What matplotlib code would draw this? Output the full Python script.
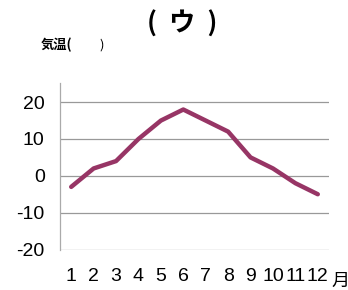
import matplotlib
matplotlib.use("Agg")
import matplotlib.pyplot as plt

plt.rcParams['font.family'] = ['Liberation Sans', 'Noto Sans CJK JP', 'DejaVu Sans']
plt.rcParams['axes.unicode_minus'] = False

months = [1, 2, 3, 4, 5, 6, 7, 8, 9, 10, 11, 12]
month_labels = ['1', '2', '3', '4', '5', '6', '7', '8', '9', '10', '11', '12']
temps = [-3, 2, 4, 10, 15, 18, 15, 12, 5, 2, -2, -5]
yticks = [-20, -10, 0, 10, 20]

fig = plt.figure(figsize=(3.48, 2.9), dpi=100)
ax = fig.add_axes([60 / 348, 1 - 249.5 / 290, 269 / 348, (249.5 - 83) / 290])

ax.plot(months, temps, color='#973565', lw=3.2, solid_capstyle='round')

ax.set_xlim(0.5, 12.5)
ax.set_ylim(-20, 25.2)
ax.set_yticks(yticks)
ax.set_xticks(months)
ax.set_xticklabels(month_labels)
ax.grid(axis='y', color='#999999', lw=0.9)
ax.set_axisbelow(True)
ax.tick_params(length=0, labelsize=14, colors='black')
ax.tick_params(axis='y', pad=11)
ax.tick_params(axis='x', pad=13)
for s in ['top', 'right', 'bottom']:
    ax.spines[s].set_visible(False)
ax.spines['left'].set_color('#aaaaaa')
ax.spines['left'].set_linewidth(0.9)

fig.text(182 / 348, 1 - 24 / 290, '(  ウ  )', ha='center', va='center', fontsize=19,
         weight='bold', family=['Noto Sans CJK JP', 'DejaVu Sans'])
fig.text(41 / 348, 1 - 45 / 290, '気温(', ha='left', va='center', fontsize=9.5,
         weight='bold', family=['Noto Sans CJK JP', 'DejaVu Sans'])
fig.text(99 / 348, 1 - 45 / 290, ')', ha='left', va='center', fontsize=9.5,
         family=['Noto Sans CJK JP', 'DejaVu Sans'])
fig.text(331 / 348, 1 - 281 / 290, '月', ha='left', va='center', fontsize=13,
         family=['Noto Sans CJK JP', 'DejaVu Sans'])

fig.savefig('out.png', dpi=100)
